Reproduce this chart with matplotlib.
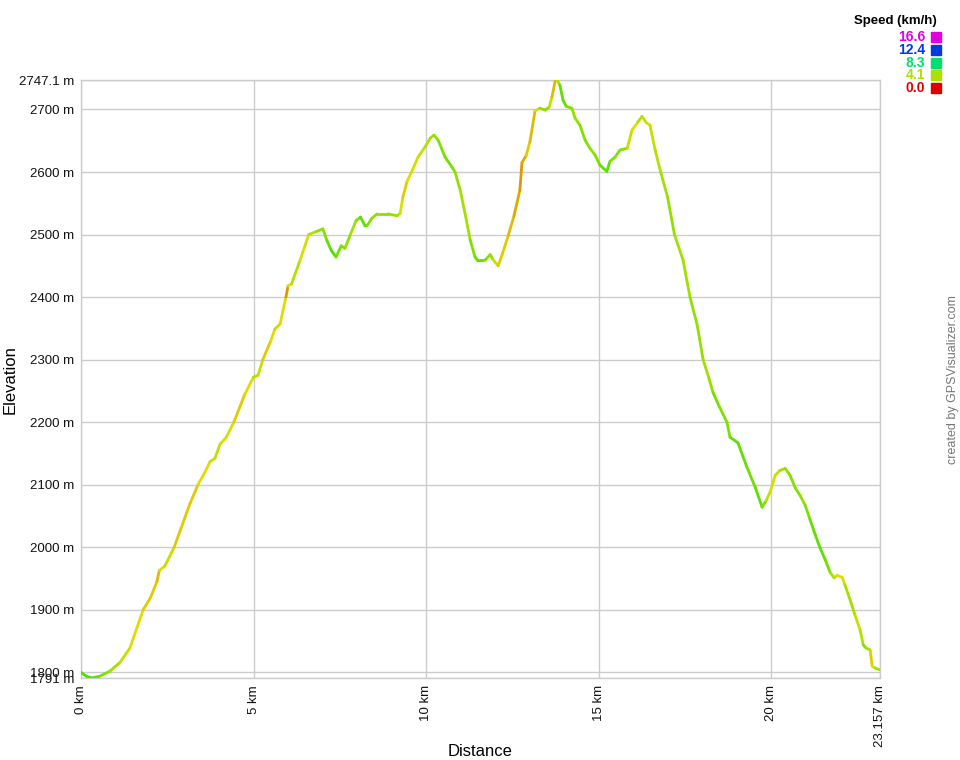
import numpy as np
import matplotlib
matplotlib.use('Agg')
import matplotlib.pyplot as plt
from matplotlib.collections import LineCollection
from matplotlib.colors import hsv_to_rgb

plt.rcParams['font.family'] = ['Liberation Sans', 'DejaVu Sans']

# 距離 (km) と標高 (m)
dist_km = [0.00, 0.15, 0.31, 0.55, 0.84, 1.13, 1.42, 1.80, 2.00, 2.20, 2.27, 2.43, 2.70, 2.87,
           3.16, 3.39, 3.59, 3.74, 3.88, 4.03, 4.20, 4.43, 4.75, 5.00, 5.13, 5.27, 5.50, 5.62,
           5.77, 5.94, 6.00, 6.10, 6.35, 6.60, 6.83, 7.01, 7.13, 7.25, 7.39, 7.54, 7.65, 7.80,
           7.97, 8.10, 8.23, 8.30, 8.43, 8.58, 8.90, 9.16, 9.25, 9.33, 9.45, 9.58, 9.77, 9.97,
           10.12, 10.23, 10.35, 10.55, 10.75, 10.84, 10.99, 11.13, 11.28, 11.42, 11.51, 11.71,
           11.86, 11.94, 12.09, 12.20, 12.38, 12.55, 12.72, 12.78, 12.90, 13.01, 13.16, 13.30,
           13.45, 13.57, 13.65, 13.74, 13.80, 13.88, 13.97, 14.06, 14.23, 14.32, 14.46, 14.61,
           14.75, 14.90, 15.04, 15.24, 15.33, 15.48, 15.62, 15.83, 15.97, 16.14, 16.26, 16.38,
           16.49, 16.64, 16.80, 17.00, 17.20, 17.45, 17.65, 17.86, 18.03, 18.20, 18.32, 18.50,
           18.72, 18.81, 19.04, 19.30, 19.54, 19.74, 19.86, 19.97, 20.12, 20.26, 20.41, 20.55,
           20.70, 20.84, 20.99, 21.13, 21.28, 21.42, 21.57, 21.71, 21.83, 21.91, 22.06, 22.14,
           22.29, 22.43, 22.58, 22.67, 22.75, 22.87, 22.93, 23.01, 23.157]
elev_m = [1800, 1794, 1791, 1794, 1802, 1816, 1839, 1900, 1918, 1945, 1963, 1970, 2000, 2026,
          2070, 2100, 2120, 2137, 2142, 2165, 2175, 2200, 2245, 2272, 2275, 2300, 2330, 2349,
          2357, 2400, 2418, 2421, 2459, 2500, 2505, 2509, 2490, 2475, 2464, 2482, 2478, 2499,
          2522, 2528, 2514, 2515, 2526, 2533, 2533, 2530, 2534, 2560, 2585, 2600, 2624, 2640,
          2654, 2659, 2651, 2624, 2608, 2600, 2571, 2534, 2491, 2464, 2458, 2459,
          2468, 2460, 2450, 2467, 2498, 2530, 2571, 2615, 2626, 2648, 2698, 2702,
          2699, 2704, 2720, 2745, 2747, 2739, 2715, 2705, 2702, 2686, 2675, 2651,
          2638, 2627, 2611, 2601, 2617, 2624, 2635, 2638, 2667, 2680, 2689, 2679,
          2675, 2635, 2600, 2560, 2500, 2459, 2400, 2355, 2300, 2270, 2247, 2225,
          2200, 2176, 2167, 2128, 2096, 2064, 2075, 2088, 2115, 2123, 2126, 2115,
          2095, 2083, 2067, 2044, 2020, 1999, 1980, 1960, 1951, 1955, 1952, 1940,
          1916, 1892, 1868, 1844, 1839, 1836, 1810, 1807, 1804]
# 速度 (km/h) - 線の色
speed_kmh = [5.5, 5.5, 5.5, 5.0, 4.5, 4.0, 3.5, 3.0, 3.0, 3.0, 2.5, 4.5, 3.0, 3.0,
             3.0, 3.0, 3.5, 3.0, 4.5, 3.0, 4.0, 3.0, 3.0, 3.5, 4.5, 3.0, 3.0, 3.5,
             4.0, 2.5, 2.0, 4.5, 3.5, 3.5, 4.5, 4.5, 5.0, 5.5, 5.5, 4.5, 5.0, 4.0,
             4.5, 5.0, 5.5, 5.0, 4.5, 4.5, 4.5, 4.5, 4.0, 3.0, 3.0, 3.5, 3.5, 4.0,
             4.0, 4.5, 4.5, 5.0, 5.0, 4.5, 4.5, 4.0, 4.5, 5.0, 5.5, 5.0,
             4.5, 4.5, 3.0, 3.0, 3.0, 2.5, 2.5, 2.0, 3.0, 3.0, 2.5, 4.5,
             4.5, 4.5, 3.0, 2.5, 3.0, 5.0, 5.5, 5.0, 4.5, 4.5, 4.5, 5.0,
             4.5, 4.5, 5.0, 5.5, 5.0, 4.5, 5.0, 4.5, 3.0, 3.5, 4.5, 3.0,
             3.5, 4.0, 4.0, 4.5, 4.5, 4.0, 4.5, 4.5, 4.5, 4.0, 5.0, 5.0,
             4.5, 5.0, 5.5, 5.0, 5.0, 5.5, 4.0, 3.5, 3.5, 4.0, 4.5, 4.5,
             5.0, 4.5, 4.5, 5.0, 5.5, 5.0, 5.5, 4.5, 4.0, 3.5, 3.0, 4.0,
             4.5, 4.0, 3.5, 4.5, 5.0, 3.5, 2.5, 4.0, 4.5]

# 凡例の値
legend_speeds = [16.6, 12.4, 8.3, 4.1, 0.0]

y_ticks = [1791, 1800, 1900, 2000, 2100, 2200, 2300, 2400, 2500, 2600, 2700, 2747.1]
y_labels = ['1791 m', '1800 m', '1900 m', '2000 m', '2100 m', '2200 m', '2300 m', '2400 m',
            '2500 m', '2600 m', '2700 m', '2747.1 m']
x_ticks = [0, 5, 10, 15, 20, 23.157]
x_labels = ['0 km', '5 km', '10 km', '15 km', '20 km', '23.157 km']

SPEED_MAX = 16.6


def speed_color(v):
    # 赤 (0) → 黄緑 → 緑 → 青 → マゼンタ (16.6)
    hue = np.clip(v / SPEED_MAX, 0, 1) * 300.0 / 360.0
    return hsv_to_rgb([hue, 1.0, 0.88])


fig = plt.figure(figsize=(9.6, 7.6), dpi=100)
ax = fig.add_axes([81 / 960, 1 - 678 / 760, 799 / 960, 598 / 760])

x = np.array(dist_km)
y = np.array(elev_m)
pts = np.column_stack([x, y]).reshape(-1, 1, 2)
segs = np.concatenate([pts[:-1], pts[1:]], axis=1)
seg_speed = [(a + b) / 2 for a, b in zip(speed_kmh[:-1], speed_kmh[1:])]
lc = LineCollection(segs, colors=[speed_color(v) for v in seg_speed], linewidth=2.0,
                    capstyle='round', joinstyle='round', zorder=3)
ax.add_collection(lc)

ax.set_xlim(0, 23.157)
ax.set_ylim(1791, 2747.1)

ax.set_yticks(y_ticks)
ax.set_yticklabels(y_labels, fontsize=9.5)
ax.set_xticks(x_ticks)
ax.set_xticklabels(x_labels, fontsize=9.5, rotation=90)
ax.tick_params(length=0, pad=5, colors='#111111')
ax.grid(True, color='#cccccc', linewidth=1)
ax.set_axisbelow(True)
for s in ax.spines.values():
    s.set_color('#cccccc')
    s.set_linewidth(1)

fig.text(10 / 960, 1 - 380 / 760, 'Elevation', rotation=90, fontsize=12,
         ha='center', va='center')
fig.text(480 / 960, 1 - 752 / 760, 'Distance', fontsize=12, ha='center', va='center')
fig.text(953 / 960, 1 - 380 / 760, 'created by GPSVisualizer.com', rotation=90,
         fontsize=9, color='#777777', ha='center', va='center')

# 凡例
fig.text(937 / 960, 1 - 21 / 760, 'Speed (km/h)', fontsize=9.5, fontweight='bold',
         ha='right', va='center')
for i, v in enumerate(legend_speeds):
    yy = 1 - (37 + i * 12.8) / 760
    c = speed_color(v)
    fig.text(925 / 960, yy, f'{v:.1f}', fontsize=10, fontweight='bold', color=c,
             ha='right', va='center')
    fig.patches.append(plt.Rectangle((931 / 960, yy - 5 / 760), 10 / 960, 10 / 760,
                                     transform=fig.transFigure, color=c))

plt.savefig('out.png', dpi=100)
